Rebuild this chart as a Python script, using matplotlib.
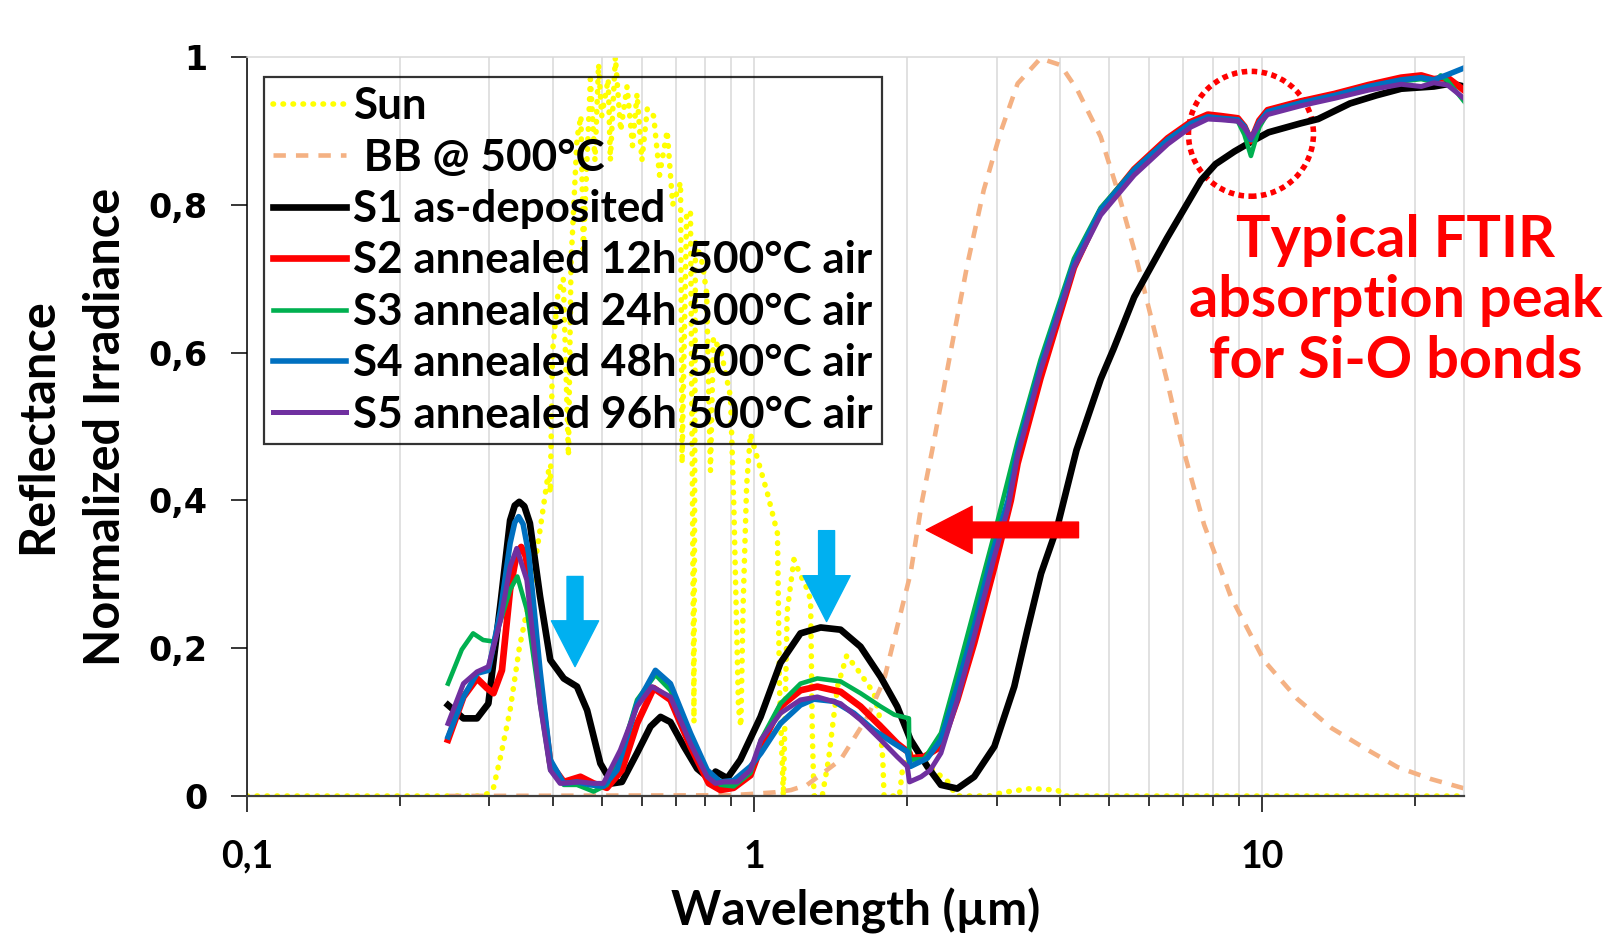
import matplotlib
matplotlib.use('Agg')
import matplotlib.pyplot as plt
from matplotlib.patches import Ellipse

plt.rcParams['font.family'] = ['Lato', 'DejaVu Sans']
plt.rcParams['font.weight'] = 'bold'

# ---- data ----
sun_wl = [0.10, 0.29, 0.30, 0.306, 0.316, 0.33, 0.344, 0.361, 0.378, 0.393, 0.396,
          0.40, 0.41, 0.42, 0.43, 0.435, 0.447, 0.455, 0.46, 0.475, 0.485, 0.493,
          0.50, 0.515, 0.52, 0.532, 0.545, 0.561, 0.575, 0.587, 0.60, 0.615, 0.633,
          0.65, 0.673, 0.69, 0.715, 0.72, 0.735, 0.748, 0.76, 0.765, 0.79, 0.805,
          0.819, 0.83, 0.86, 0.897, 0.91, 0.93, 0.94, 0.95, 0.965, 0.982, 1.02,
          1.06, 1.11, 1.12, 1.14, 1.16, 1.196, 1.23, 1.27, 1.29, 1.30, 1.31, 1.36,
          1.40, 1.44, 1.46, 1.52, 1.60, 1.72, 1.76, 1.79, 1.80, 1.93, 1.96, 2.05,
          2.15, 2.25, 2.40, 2.50, 2.90, 3.10, 3.50, 3.95, 4.10, 25.0]
sun_val = [0.0, 0.0, 0.004, 0.011, 0.053, 0.116, 0.20, 0.27, 0.36, 0.44, 0.41,
           0.60, 0.68, 0.70, 0.46, 0.72, 0.89, 0.92, 0.74, 0.97, 0.86, 0.99,
           0.92, 0.97, 0.86, 1.00, 0.90, 0.96, 0.88, 0.95, 0.86, 0.93, 0.92,
           0.84, 0.90, 0.80, 0.83, 0.45, 0.79, 0.79, 0.10, 0.75, 0.72, 0.68,
           0.44, 0.62, 0.60, 0.54, 0.40, 0.12, 0.094, 0.26, 0.42, 0.49, 0.45,
           0.41, 0.355, 0.15, 0.0, 0.25, 0.32, 0.30, 0.28, 0.265, 0.085, 0.0, 0.0,
           0.05, 0.12, 0.15, 0.19, 0.17, 0.139, 0.11, 0.05, 0.0, 0.0, 0.04, 0.06,
           0.05, 0.035, 0.02, 0.0, 0.0, 0.005, 0.01, 0.008, 0.0, 0.0]

bb_wl = [0.25, 0.9, 1.0, 1.1, 1.18, 1.27, 1.478, 1.67, 1.8, 1.911, 2.03, 2.14, 2.24,
         2.44, 2.63, 2.83, 3.05, 3.3, 3.66, 4.01, 4.33, 4.81, 5.19, 5.6, 6.04,
         6.52, 6.92, 7.69, 8.69, 10.1, 11.75, 13.7, 15.9, 18.5, 21.5, 25.1]
bb_val = [0.0, 0.001, 0.003, 0.005, 0.008, 0.015, 0.049, 0.107, 0.157, 0.229, 0.301,
          0.40, 0.468, 0.604, 0.721, 0.82, 0.897, 0.964, 0.998, 0.989, 0.955, 0.892,
          0.82, 0.739, 0.649, 0.558, 0.481, 0.367, 0.269, 0.183, 0.131, 0.092,
          0.065, 0.039, 0.023, 0.010]

s1_wl = [0.249, 0.267, 0.284, 0.299, 0.316, 0.330, 0.337, 0.344, 0.352, 0.361, 0.378,
         0.396, 0.421, 0.447, 0.468, 0.497, 0.524, 0.548, 0.587, 0.624, 0.653, 0.683,
         0.726, 0.771, 0.819, 0.838, 0.884, 0.938, 1.028, 1.125, 1.232, 1.35,
         1.478, 1.618, 1.773, 1.911, 2.03, 2.19, 2.33, 2.51, 2.71, 2.97, 3.25,
         3.45, 3.67, 3.95, 4.31, 4.81, 5.1, 5.6, 6.5, 7.58, 8.1, 8.82, 9.51, 10.3,
         11.9, 12.9, 14.9, 16.8, 18.8, 21.8, 23.6, 25.0]
s1_val = [0.123, 0.105, 0.105, 0.125, 0.261, 0.373, 0.393, 0.398, 0.392, 0.369, 0.270,
          0.184, 0.159, 0.148, 0.116, 0.044, 0.017, 0.019, 0.058, 0.094, 0.107, 0.100,
          0.067, 0.037, 0.022, 0.033, 0.024, 0.049, 0.107, 0.180, 0.220, 0.228,
          0.225, 0.202, 0.161, 0.121, 0.076, 0.040, 0.015, 0.010, 0.026, 0.067,
          0.148, 0.225, 0.301, 0.364, 0.468, 0.564, 0.605, 0.675, 0.755, 0.833, 0.855,
          0.872, 0.885, 0.898, 0.910, 0.916, 0.937, 0.948, 0.957, 0.960, 0.964,
          0.960]

s2_wl = [0.249, 0.267, 0.284, 0.297, 0.306, 0.318, 0.330, 0.340, 0.347, 0.354, 0.361,
         0.378, 0.396, 0.421, 0.454, 0.482, 0.512, 0.548, 0.587, 0.633, 0.683, 0.748,
         0.813, 0.857, 0.91, 0.982, 1.03, 1.125, 1.232, 1.33, 1.478, 1.618,
         1.773, 1.911, 2.02, 2.03, 2.16, 2.33, 2.51, 2.71, 2.97, 3.2, 3.3, 3.66,
         4.26, 4.81, 5.6, 6.52, 7.24, 7.82, 8.3, 8.96, 9.23, 9.51, 9.88, 10.26,
         11.94, 13.9, 16.2, 18.8, 20.6, 21.8, 23.2, 25.0]
s2_val = [0.076, 0.134, 0.159, 0.146, 0.139, 0.170, 0.279, 0.328, 0.337, 0.325, 0.292,
          0.152, 0.044, 0.019, 0.026, 0.017, 0.011, 0.035, 0.098, 0.146, 0.130, 0.067,
          0.017, 0.008, 0.011, 0.028, 0.067, 0.121, 0.143, 0.148, 0.141, 0.121,
          0.094, 0.071, 0.058, 0.051, 0.053, 0.067, 0.130, 0.207, 0.310, 0.400,
          0.450, 0.565, 0.715, 0.792, 0.848, 0.890, 0.912, 0.922, 0.920, 0.917,
          0.906, 0.886, 0.914, 0.928, 0.940, 0.950, 0.962, 0.972, 0.975, 0.970,
          0.972, 0.955]

s3_wl = [0.249, 0.265, 0.279, 0.292, 0.306, 0.318, 0.330, 0.341, 0.356, 0.378,
         0.396, 0.421, 0.447, 0.482, 0.512, 0.544, 0.587, 0.638, 0.683, 0.748,
         0.807, 0.857, 0.91, 0.982, 1.03, 1.125, 1.232, 1.33, 1.478, 1.618,
         1.773, 1.885, 2.015, 2.02, 2.16, 2.33, 2.51, 2.71, 2.97, 3.3, 3.66,
         4.26, 4.81, 5.6, 6.52, 7.24, 7.82, 8.3, 8.96, 9.23, 9.51, 9.88, 10.26,
         11.94, 13.9, 16.2, 18.8, 20.6, 21.8, 22.5, 23.2, 25.0]
s3_val = [0.152, 0.198, 0.220, 0.211, 0.209, 0.243, 0.279, 0.297, 0.252, 0.125,
          0.035, 0.015, 0.015, 0.006, 0.015, 0.053, 0.130, 0.164, 0.143, 0.076,
          0.031, 0.015, 0.013, 0.031, 0.076, 0.125, 0.152, 0.159, 0.155, 0.139,
          0.121, 0.110, 0.105, 0.049, 0.050, 0.085, 0.166, 0.252, 0.355, 0.480,
          0.590, 0.727, 0.796, 0.848, 0.888, 0.910, 0.918, 0.916, 0.913, 0.895,
          0.866, 0.905, 0.924, 0.937, 0.947, 0.958, 0.967, 0.970, 0.966, 0.975,
          0.968, 0.940]

s4_wl = [0.249, 0.267, 0.284, 0.299, 0.316, 0.330, 0.337, 0.343, 0.350, 0.359, 0.378,
         0.396, 0.421, 0.447, 0.475, 0.504, 0.536, 0.587, 0.638, 0.683, 0.748, 0.807,
         0.857, 0.91, 0.982, 1.03, 1.125, 1.232, 1.31, 1.435, 1.57, 1.72, 1.885,
         2.0, 2.03, 2.19, 2.33, 2.51, 2.71, 2.93, 3.16, 3.3, 3.66, 4.26, 4.81,
         5.6, 6.52, 7.24, 7.82, 8.3, 8.96, 9.23, 9.51, 9.88, 10.26, 11.94, 13.9,
         16.2, 18.8, 20.6, 21.8, 23.2, 25.0]
s4_val = [0.080, 0.134, 0.166, 0.170, 0.251, 0.342, 0.370, 0.378, 0.368, 0.328, 0.170,
          0.049, 0.017, 0.019, 0.015, 0.013, 0.035, 0.125, 0.170, 0.152, 0.085, 0.035,
          0.019, 0.021, 0.040, 0.058, 0.098, 0.123, 0.131, 0.128, 0.112, 0.089,
          0.071, 0.060, 0.040, 0.051, 0.076, 0.148, 0.229, 0.324, 0.400, 0.468,
          0.581, 0.721, 0.793, 0.847, 0.888, 0.910, 0.919, 0.917, 0.915, 0.906,
          0.888, 0.912, 0.926, 0.938, 0.948, 0.960, 0.969, 0.972, 0.969, 0.976,
          0.985]

s5_wl = [0.249, 0.267, 0.284, 0.299, 0.316, 0.330, 0.340, 0.356, 0.378, 0.396,
         0.414, 0.454, 0.482, 0.504, 0.544, 0.587, 0.628, 0.683, 0.748, 0.807,
         0.838, 0.87, 0.925, 0.982, 1.03, 1.125, 1.232, 1.33, 1.478, 1.618,
         1.773, 1.911, 2.0, 2.02, 2.13, 2.22, 2.33, 2.51, 2.71, 2.97, 3.16, 3.3,
         3.66, 4.26, 4.81, 5.6, 6.52, 7.24, 7.82, 8.3, 8.96, 9.23, 9.51, 9.88,
         10.26, 11.94, 13.9, 16.2, 18.8, 20.6, 21.8, 23.2, 25.0]
s5_val = [0.098, 0.152, 0.168, 0.175, 0.238, 0.310, 0.335, 0.292, 0.125, 0.035,
          0.017, 0.019, 0.017, 0.017, 0.062, 0.121, 0.148, 0.134, 0.071, 0.026,
          0.017, 0.019, 0.019, 0.035, 0.076, 0.112, 0.130, 0.134, 0.125, 0.103,
          0.076, 0.053, 0.040, 0.019, 0.026, 0.035, 0.058, 0.130, 0.216, 0.324,
          0.390, 0.460, 0.575, 0.715, 0.786, 0.840, 0.882, 0.905, 0.916, 0.915,
          0.913, 0.904, 0.890, 0.910, 0.922, 0.934, 0.944, 0.955, 0.963, 0.960,
          0.965, 0.962, 0.944]

x_major = [0.1, 1, 10]
x_major_labels = ['0,1', '1', '10']
y_ticks = [0, 0.2, 0.4, 0.6, 0.8, 1.0]
y_tick_labels = ['0', '0,2', '0,4', '0,6', '0,8', '1']

# ---- figure ----
fig = plt.figure(figsize=(16.13, 9.35), dpi=100)
ax = fig.add_axes([0.1531, 0.1487, 0.7545, 0.7904])

ax.plot(sun_wl, sun_val, color='#FFFF00', lw=4.0, linestyle=(0, (0.1, 1.7)),
        dash_capstyle='round', label='Sun')
ax.plot(bb_wl, bb_val, color='#F4B183', lw=3.3, linestyle=(0, (2.7, 2.2)),
        label=' BB @ 500°C')
ax.plot(s1_wl, s1_val, color='black', lw=4.8, label='S1 as-deposited')
ax.plot(s2_wl, s2_val, color='#FF0000', lw=4.8, label='S2 annealed 12h 500°C air')
ax.plot(s3_wl, s3_val, color='#00B050', lw=3.3, label='S3 annealed 24h 500°C air')
ax.plot(s4_wl, s4_val, color='#0070C0', lw=4.0, label='S4 annealed 48h 500°C air')
ax.plot(s5_wl, s5_val, color='#7030A0', lw=3.6, label='S5 annealed 96h 500°C air')

ax.set_xscale('log')
ax.set_xlim(0.1, 25)
ax.set_ylim(0, 1)

ax.set_xticks(x_major)
ax.set_xticklabels(x_major_labels)
ax.set_xticks([m * d for d in (0.1, 1, 10) for m in range(2, 10) if m * d < 25], minor=True)
ax.set_xticklabels([], minor=True)
ax.set_yticks(y_ticks)
ax.set_yticklabels(y_tick_labels, fontfamily='DejaVu Sans', fontweight='bold')

ax.grid(axis='x', which='both', color='#D9D9D9', lw=1.1)
ax.set_axisbelow(True)

ax.tick_params(axis='y', direction='out', length=11.5, width=1.1, pad=17, labelsize=24)
ax.tick_params(axis='x', which='major', direction='out', length=11.5, width=1.1,
               pad=20, labelsize=27)
ax.tick_params(axis='x', which='minor', direction='out', length=7, width=1.1)

ax.spines['left'].set_color('black')
ax.spines['left'].set_linewidth(1.1)
ax.spines['bottom'].set_color('#404040')
ax.spines['bottom'].set_linewidth(1.6)
ax.spines['top'].set_color('#D9D9D9')
ax.spines['right'].set_color('#D9D9D9')
ax.spines['top'].set_linewidth(1.1)
ax.spines['right'].set_linewidth(1.1)

ax.set_xlabel('Wavelength (µm)', fontsize=34.5, fontweight='bold')
ax.xaxis.set_label_coords(0.5, -0.124)
ax.xaxis.label.set_verticalalignment('top')
ax.set_ylabel('Reflectance\nNormalized Irradiance', fontsize=35, fontweight='bold',
              linespacing=1.6)
ax.yaxis.label.set_verticalalignment('center')
ax.yaxis.label.set_horizontalalignment('center')
ax.yaxis.set_label_coords(-0.144, 0.5)

leg = ax.legend(loc='upper left', bbox_to_anchor=(0.014, 0.973), borderaxespad=0,
                fontsize=31.7, handlelength=1.65, handletextpad=0.16, labelspacing=0.26,
                borderpad=0.21, fancybox=False, facecolor='none')
leg.get_frame().set_edgecolor('black')
leg.get_frame().set_linewidth(1.6)

# annotations
ax.add_patch(Ellipse((0.825, 0.896), 0.1027, 0.169, transform=ax.transAxes,
                     fill=False, edgecolor='#FF0000', lw=4, linestyle=(0, (1, 0.8))))
ax.text(0.944, 0.670, 'Typical FTIR\nabsorption peak\nfor Si-O bonds', transform=ax.transAxes,
        ha='center', va='center', multialignment='center', color='#FF0000',
        fontsize=41.5, linespacing=1.18, clip_on=False)

ax.annotate('', xy=(2.18, 0.36), xytext=(4.35, 0.36),
            arrowprops=dict(arrowstyle='simple,head_length=33,head_width=34,tail_width=11.3',
                            mutation_scale=1, color='#FF0000', shrinkA=0, shrinkB=0))
ax.annotate('', xy=(0.443, 0.175), xytext=(0.443, 0.297),
            arrowprops=dict(arrowstyle='simple,head_length=33,head_width=34,tail_width=11.5',
                            mutation_scale=1, color='#00B0F0', shrinkA=0, shrinkB=0))
ax.annotate('', xy=(1.387, 0.236), xytext=(1.387, 0.359),
            arrowprops=dict(arrowstyle='simple,head_length=33,head_width=34,tail_width=11.5',
                            mutation_scale=1, color='#00B0F0', shrinkA=0, shrinkB=0))

fig.savefig('out.png', dpi=100)
